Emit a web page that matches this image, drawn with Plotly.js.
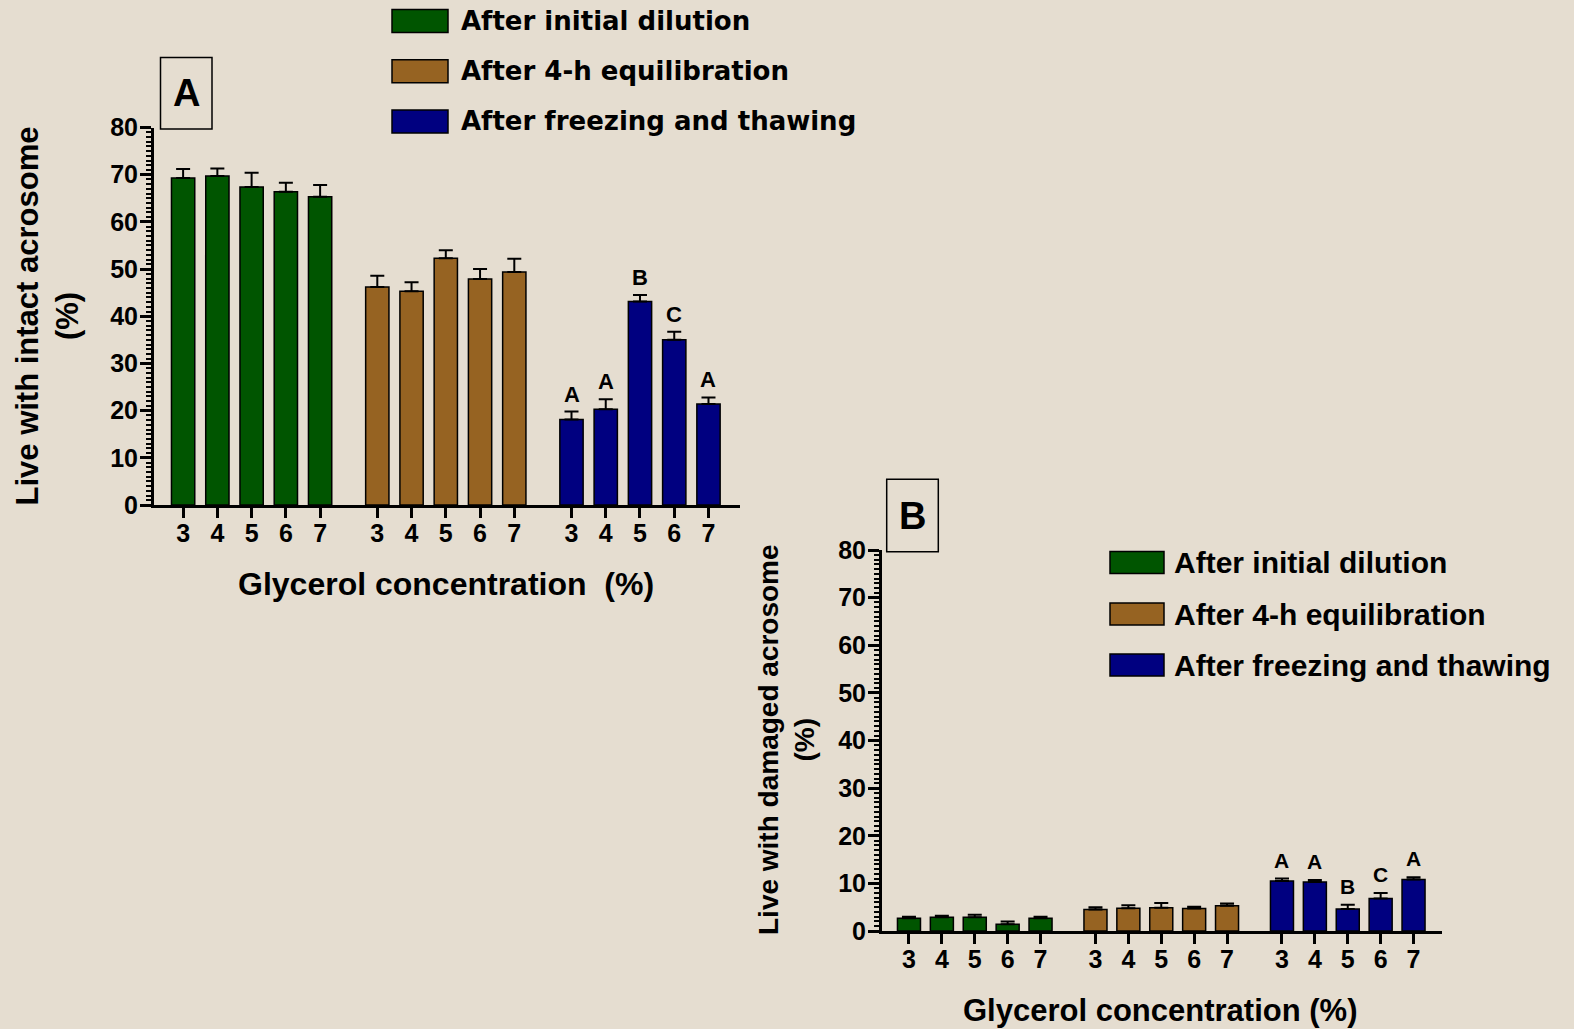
<!DOCTYPE html>
<html>
<head>
<meta charset="utf-8">
<script src="https://cdn.plot.ly/plotly-3.0.1.min.js"></script>
<style>html,body{margin:0;padding:0;background:#e5ddd0;}#chart{width:1574px;height:1029px;}</style>
</head>
<body>
<div id="chart"></div>
<script>
// ---------- data ----------
const concLabels = ['3', '4', '5', '6', '7'];
const seriesNames = ['After initial dilution', 'After 4-h equilibration', 'After freezing and thawing'];

// Panel A: live with intact acrosome (%)
const intactDilution      = [69.3, 69.7, 67.4, 66.4, 65.3];
const intactDilutionErr   = [1.9, 1.6, 3.0, 1.9, 2.5];
const intactEquil         = [46.2, 45.3, 52.3, 47.9, 49.4];
const intactEquilErr      = [2.4, 1.9, 1.7, 2.1, 2.8];
const intactThaw          = [18.1, 20.3, 43.1, 35.0, 21.4];
const intactThawErr       = [1.7, 2.1, 1.4, 1.7, 1.4];
const intactThawLetters   = ['A', 'A', 'B', 'C', 'A'];

// Panel B: live with damaged acrosome (%)
const damagedDilution     = [2.7, 2.9, 2.9, 1.4, 2.7];
const damagedDilutionErr  = [0.3, 0.3, 0.5, 0.6, 0.3];
const damagedEquil        = [4.5, 4.8, 4.9, 4.7, 5.3];
const damagedEquilErr     = [0.5, 0.6, 1.0, 0.4, 0.5];
const damagedThaw         = [10.5, 10.3, 4.6, 6.8, 10.8];
const damagedThawErr      = [0.5, 0.4, 0.9, 1.2, 0.5];
const damagedThawLetters  = ['A', 'A', 'B', 'C', 'A'];

const yTickVals = [0, 10, 20, 30, 40, 50, 60, 70, 80];

// ---------- styling ----------
const W = 1574, H = 1029;
const colors = ['#005500', '#966322', '#000080'];
const FONT = 'Liberation Sans, Arial, Helvetica, sans-serif';
const GROUP_STEP = 5.67;
const px = x => x / W;
const py = y => 1 - y / H;

function positions(g) { return concLabels.map((_, i) => g * GROUP_STEP + i); }
const allPos = [0, 1, 2].flatMap(g => positions(g));
const allText = [0, 1, 2].flatMap(() => concLabels);

function barTrace(g, vals, errs, xa, ya, bw) {
  return {
    type: 'bar', x: positions(g), y: vals, name: seriesNames[g],
    xaxis: xa, yaxis: ya, width: bw,
    marker: { color: colors[g], line: { color: '#000', width: 1.5 } },
    error_y: { type: 'data', array: errs, arrayminus: errs.map(() => 0), symmetric: false,
               color: '#000', thickness: 2, width: 7 },
    hoverinfo: 'x+y', showlegend: false
  };
}

const traces = [
  barTrace(0, intactDilution, intactDilutionErr, 'x', 'y', 0.68),
  barTrace(1, intactEquil, intactEquilErr, 'x', 'y', 0.68),
  barTrace(2, intactThaw, intactThawErr, 'x', 'y', 0.68),
  barTrace(0, damagedDilution, damagedDilutionErr, 'x2', 'y2', 0.70),
  barTrace(1, damagedEquil, damagedEquilErr, 'x2', 'y2', 0.70),
  barTrace(2, damagedThaw, damagedThawErr, 'x2', 'y2', 0.70)
];

function xAxis(domain, range, anchor) {
  return {
    domain: domain, range: range, anchor: anchor,
    tickmode: 'array', tickvals: allPos, ticktext: allText,
    ticks: 'outside', ticklen: 10, tickwidth: 3, tickcolor: '#000',
    showline: true, linewidth: 3, linecolor: '#000',
    showgrid: false, zeroline: false, ticklabelstandoff: -6,
    tickfont: { family: FONT, size: 25, color: '#000', weight: 700 },
    fixedrange: true
  };
}
function yAxis(domain, anchor) {
  return {
    domain: domain, range: [0, 80], anchor: anchor,
    tickmode: 'array', tickvals: yTickVals,
    ticks: 'outside', ticklen: 11, tickwidth: 3, tickcolor: '#000',
    minor: { dtick: 1, tick0: 0, ticks: 'outside', ticklen: 5, tickwidth: 2, tickcolor: '#000', showgrid: false },
    showline: true, linewidth: 3, linecolor: '#000',
    showgrid: false, zeroline: false, ticklabelstandoff: -3,
    tickfont: { family: FONT, size: 25, color: '#000', weight: 700 },
    fixedrange: true
  };
}

const annotations = [];
const shapes = [];

// significance letters
function letters(g, vals, errs, lets, xa, ya, size, shift) {
  positions(g).forEach((x, i) => {
    annotations.push({ x: x, y: vals[i] + errs[i], xref: xa, yref: ya, text: lets[i],
      showarrow: false, yanchor: 'bottom', yshift: shift,
      font: { family: FONT, size: size, color: '#000', weight: 700 } });
  });
}
letters(2, intactThaw, intactThawErr, intactThawLetters, 'x', 'y', 22, 3);
letters(2, damagedThaw, damagedThawErr, damagedThawLetters, 'x2', 'y2', 21, 5);

// legends drawn as swatches + text
function legend(x0, x1, centers, hgt, tx, font, size) {
  centers.forEach((cy, g) => {
    shapes.push({ type: 'rect', xref: 'paper', yref: 'paper',
      x0: px(x0), x1: px(x1), y0: py(cy + hgt / 2), y1: py(cy - hgt / 2),
      fillcolor: colors[g], line: { color: '#000', width: 1.5 } });
    annotations.push({ xref: 'paper', yref: 'paper', x: px(tx), y: py(cy),
      xanchor: 'left', yanchor: 'middle', showarrow: false, text: seriesNames[g],
      font: { family: font, size: size, color: '#000', weight: 700 } });
  });
}
legend(392, 448, [21, 71.3, 121.5], 23, 459, 'DejaVu Sans, Verdana, sans-serif', 26);
legend(1110, 1164, [562.5, 614, 665], 22, 1172, FONT, 30);

// panel labels in boxes
function panelLabel(x0, x1, y0, y1, txt) {
  shapes.push({ type: 'rect', xref: 'paper', yref: 'paper',
    x0: px(x0), x1: px(x1), y0: py(y1), y1: py(y0),
    line: { color: '#000', width: 1.5 }, fillcolor: 'rgba(0,0,0,0)' });
  annotations.push({ xref: 'paper', yref: 'paper', x: px((x0 + x1) / 2), y: py((y0 + y1) / 2),
    xanchor: 'center', yanchor: 'middle', showarrow: false, text: txt,
    font: { family: FONT, size: 38, color: '#000', weight: 700 } });
}
panelLabel(160.5, 212, 57.5, 129, 'A');
panelLabel(886.7, 938.3, 479.3, 551.7, 'B');

// axis titles
function title(x, y, txt, size, angle) {
  annotations.push({ xref: 'paper', yref: 'paper', x: px(x), y: py(y),
    xanchor: 'center', yanchor: 'middle', showarrow: false, text: txt, textangle: angle,
    font: { family: FONT, size: size, color: '#000', weight: 700 } });
}
title(446, 583.5, 'Glycerol concentration\u00a0\u00a0(%)', 32, 0);
title(1160, 1010, 'Glycerol concentration (%)', 31, 0);
title(47, 316.5, 'Live with intact acrosome<br>(%)', 31, -90);
title(786, 740, 'Live with damaged acrosome<br>(%)', 28, -90);

const layout = {
  width: W, height: H,
  margin: { l: 0, r: 0, t: 0, b: 0 },
  paper_bgcolor: '#e5ddd0', plot_bgcolor: 'rgba(0,0,0,0)',
  barmode: 'overlay', showlegend: false,
  xaxis: xAxis([px(154), px(740)], [-0.85, 16.26], 'y'),
  yaxis: yAxis([py(505), py(127.5)], 'x'),
  xaxis2: xAxis([px(882), px(1441.5)], [-0.82, 16.19], 'y2'),
  yaxis2: yAxis([py(931), py(550)], 'x2'),
  annotations: annotations, shapes: shapes,
  font: { family: FONT, color: '#000' }
};

Plotly.newPlot('chart', traces, layout, { displayModeBar: false, staticPlot: true });
</script>
</body>
</html>
